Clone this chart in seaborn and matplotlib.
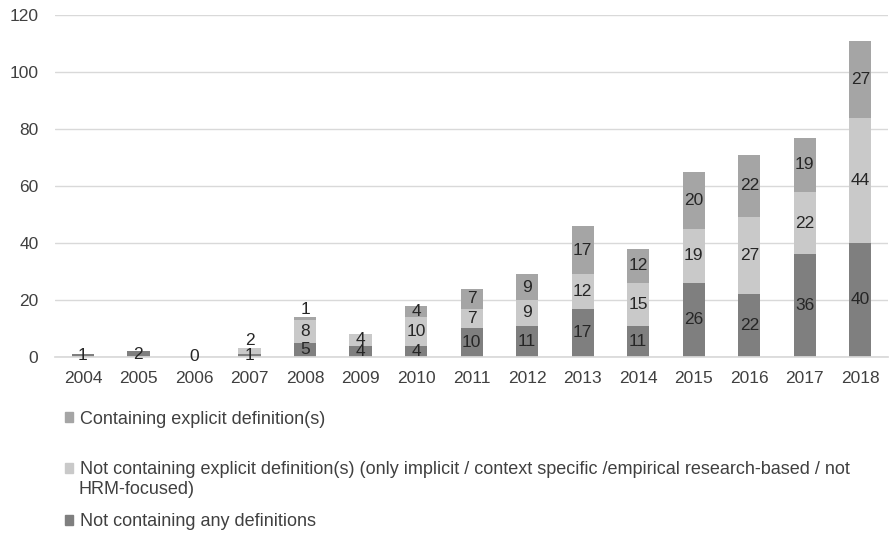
import numpy as np
import pandas as pd
import matplotlib
matplotlib.use("Agg")
import matplotlib.pyplot as plt
from matplotlib.patches import Patch
import seaborn as sns

# values (NaN = no label shown in the original)
years = ['2004', '2005', '2006', '2007', '2008', '2009', '2010', '2011',
         '2012', '2013', '2014', '2015', '2016', '2017', '2018']
no_def = [1, 2, 0, 1, 5, 4, 4, 10, 11, 17, 11, 26, 22, 36, 40]
implicit = [np.nan, np.nan, np.nan, 2, 8, 4, 10, 7, 9, 12, 15, 19, 27, 22, 44]
explicit = [np.nan, np.nan, np.nan, np.nan, 1, np.nan, 4, 7, 9, 17, 12, 20, 22, 19, 27]

names = ['Containing explicit definition(s)',
         'Not containing explicit definition(s) (only implicit / context specific /empirical research-based / not',
         'Not containing any definitions']
name2_cont = 'HRM-focused)'
colors = {'explicit': '#a5a5a5', 'implicit': '#c9c9c9', 'no_def': '#7f7f7f'}

df = pd.DataFrame({'year': years, 'no_def': no_def,
                   'implicit': implicit, 'explicit': explicit})
df['c1'] = df['no_def'].fillna(0)
df['c2'] = df['c1'] + df['implicit'].fillna(0)
df['c3'] = df['c2'] + df['explicit'].fillna(0)

sns.set_theme(style='white')
plt.rcParams['font.family'] = ['Liberation Sans', 'DejaVu Sans']

fig = plt.figure(figsize=(8.89, 5.36), dpi=100)
ax = fig.add_axes([0.062, 0.334, 0.937, 0.638])

# stacked look: draw cumulative totals back to front
for col, key in [('c3', 'explicit'), ('c2', 'implicit'), ('c1', 'no_def')]:
    sns.barplot(data=df, x='year', y=col, color=colors[key], width=0.4,
                saturation=1, errorbar=None, linewidth=0, ax=ax)

# segment labels (thin upper segments get their label just above, like Excel)
for i, row in df.iterrows():
    bottom = 0
    for key in ['no_def', 'implicit', 'explicit']:
        v = row[key]
        if pd.notna(v):
            if bottom > 0 and v < 3:
                ax.text(i, bottom + v, f'{int(v)}', ha='center', va='bottom',
                        fontsize=12.5, color='#262626')
            else:
                ax.text(i, bottom + v / 2, f'{int(v)}', ha='center', va='center',
                        fontsize=12.5, color='#262626')
            bottom += v

ax.set_ylim(0, 120)
ax.set_xlim(-0.5, len(years) - 0.5)
ax.set_yticks(range(0, 121, 20))
ax.yaxis.grid(True, color='#d9d9d9', linewidth=1)
ax.set_axisbelow(True)
ax.set_xlabel('')
ax.set_ylabel('')
for s in ['top', 'right', 'left']:
    ax.spines[s].set_visible(False)
ax.spines['bottom'].set_color('#d9d9d9')
ax.tick_params(axis='y', length=0, pad=12, labelsize=12.5, labelcolor='#404040')
ax.tick_params(axis='x', length=0, pad=10, labelsize=12.5, labelcolor='#404040')

# legend entries, one per row like the original
legend_y = [1 - 419 / 536, 1 - 470 / 536, 1 - 522 / 536]
for name, key, y in zip(names, ['explicit', 'implicit', 'no_def'], legend_y):
    fig.legend(handles=[Patch(color=colors[key])], labels=[name],
               loc='center left', bbox_to_anchor=(0.073, y),
               frameon=False, fontsize=13, handlelength=0.45,
               handleheight=0.45, handletextpad=0.4,
               borderpad=0, borderaxespad=0, labelcolor='#404040')
fig.text(78 / 889, 1 - 490 / 536, name2_cont, ha='left', va='center',
         fontsize=13, color='#404040')

fig.savefig('out.png', dpi=100)
